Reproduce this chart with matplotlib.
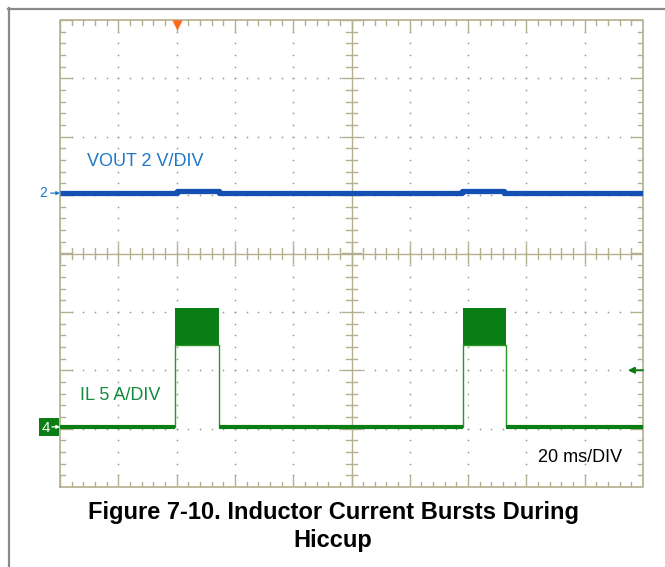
import matplotlib.pyplot as plt
from matplotlib.patches import Rectangle
import numpy as np

plt.rcParams['font.family'] = ['Liberation Sans', 'DejaVu Sans']

# scope screen in divisions: x 0..10 (20 ms/div), y -4..4
# VOUT trace (ch2): step levels between time breakpoints
vout_t = [0.0, 2.0, 2.72, 6.9, 7.62, 10.0]
vout_lvl = [1.035, 1.075, 1.035, 1.065, 1.035]

# IL trace (ch4): baseline and switching bursts
il_base = -2.97
burst_start = [1.98, 6.92]
burst_end = [2.73, 7.65]
burst_low = -1.57
burst_high = -0.93

# colours
grat = '#b4af8e'
blue = '#1450b4'
blue_txt = '#1f78c8'
green = '#0a7d14'
green_txt = '#138a3c'

fig = plt.figure(figsize=(6.65, 5.67), dpi=100)
W, H = 665, 567
ax = fig.add_axes([60 / W, (H - 487) / H, 583 / W, 467 / H])
ax.set_xlim(0, 10)
ax.set_ylim(-4, 4)
ax.axis('off')

# outer frame of the screenshot (only top and left visible)
fig.add_artist(plt.Line2D([8 / W, 1], [1 - 8.5 / H, 1 - 8.5 / H], color='#8a8a8a', lw=1.6))
fig.add_artist(plt.Line2D([8.5 / W, 8.5 / W], [0, 1 - 8 / H], color='#8a8a8a', lw=1.6))

# graticule frame
ax.plot([0, 10, 10, 0, 0], [-4, -4, 4, 4, -4], color=grat, lw=1.2, clip_on=False)
# centre crosshair
ax.plot([5, 5], [-4, 4], color=grat, lw=1.0)
ax.plot([0, 10], [0, 0], color=grat, lw=1.0)

minor = 0.09
major = 0.21
xs = np.arange(0, 10.01, 0.2)
ys = np.arange(-4, 4.01, 0.2)
for x in xs:
    is_major = abs(x - round(x)) < 1e-6
    L = major if is_major else minor
    ax.plot([x, x], [4, 4 - L], color=grat, lw=1.0)
    ax.plot([x, x], [-4, -4 + L], color=grat, lw=1.0)
    c = 0.16 if is_major else 0.1
    ax.plot([x, x], [-c, c], color=grat, lw=1.0)
for y in ys:
    is_major = abs(y - round(y)) < 1e-6
    L = major if is_major else minor
    ax.plot([0, L], [y, y], color=grat, lw=1.0)
    ax.plot([10, 10 - L], [y, y], color=grat, lw=1.0)
    c = 0.16 if is_major else 0.1
    ax.plot([5 - c, 5 + c], [y, y], color=grat, lw=1.0)

# dotted grid
for gx in range(1, 10):
    if gx == 5:
        continue
    ax.scatter(np.full(len(ys) - 2, gx), ys[1:-1], s=1.5, color='#9a9a8a', lw=0)
for gy in range(-3, 4):
    if gy == 0:
        continue
    ax.scatter(xs[1:-1], np.full(len(xs) - 2, gy), s=1.5, color='#9a9a8a', lw=0)

# VOUT trace
ax.step(vout_t, vout_lvl + [vout_lvl[-1]], where='post', color=blue, lw=3.8,
        solid_capstyle='butt')

# IL trace
x_il = [0.0]
y_il = [il_base]
for s, e in zip(burst_start, burst_end):
    x_il += [s, s, e, e]
    y_il += [il_base, burst_low, burst_low, il_base]
x_il.append(10.0)
y_il.append(il_base)
ax.plot(x_il, y_il, color='#2a962a', lw=1.0)
base_mask_x = [0.0] + [v for p in zip(burst_start, burst_end) for v in p] + [10.0]
for a, b in zip(base_mask_x[0::2], base_mask_x[1::2]):
    ax.plot([a, b], [il_base, il_base], color=green, lw=3.0, solid_capstyle='butt')
for s, e in zip(burst_start, burst_end):
    ax.fill_between([s, e], burst_low, burst_high, color=green, lw=0)

# channel labels
ax.text(0.47, 1.58, 'VOUT 2 V/DIV', color=blue_txt, fontsize=13, va='center', ha='left')
ax.text(0.35, -2.43, 'IL 5 A/DIV', color=green_txt, fontsize=13, va='center', ha='left')
ax.text(8.2, -3.5, '20 ms/DIV', color='black', fontsize=13, va='center', ha='left')

# ground markers
arrow_kw = dict(arrowstyle='-|>', lw=0.9, mutation_scale=5, shrinkA=0, shrinkB=0)
ax.text(-0.22, vout_lvl[0], '2', color=blue_txt, fontsize=10, va='center', ha='right', clip_on=False)
ax.annotate('', xy=(0.0, vout_lvl[0]), xytext=(-0.16, vout_lvl[0]),
            arrowprops=dict(color=blue_txt, **arrow_kw), annotation_clip=False)
ax.add_patch(Rectangle((-0.36, il_base - 0.15), 0.35, 0.3, fc=green, ec='none', clip_on=False))
ax.text(-0.25, il_base - 0.02, '4', color='white', fontsize=11, va='center', ha='center',
        clip_on=False)
ax.annotate('', xy=(0.0, il_base), xytext=(-0.14, il_base),
            arrowprops=dict(color='white', **arrow_kw), annotation_clip=False)

# trigger markers
ax.scatter([2.0], [3.92], marker='v', s=55, color='#ff6a1a', clip_on=False, zorder=5, lw=0)
ax.annotate('', xy=(9.74, -2.0), xytext=(10.0, -2.0),
            arrowprops=dict(arrowstyle='-|>', color=green, lw=1.4, mutation_scale=9,
                            shrinkA=0, shrinkB=0))

# caption
fig.text(333 / W, 1 - 512 / H, 'Figure 7-10. Inductor Current Bursts During',
         fontsize=17, fontweight='bold', ha='center', va='center')
fig.text(333 / W, 1 - 541 / H, 'Hiccup',
         fontsize=17, fontweight='bold', ha='center', va='center')

fig.savefig('out.png', dpi=100)
